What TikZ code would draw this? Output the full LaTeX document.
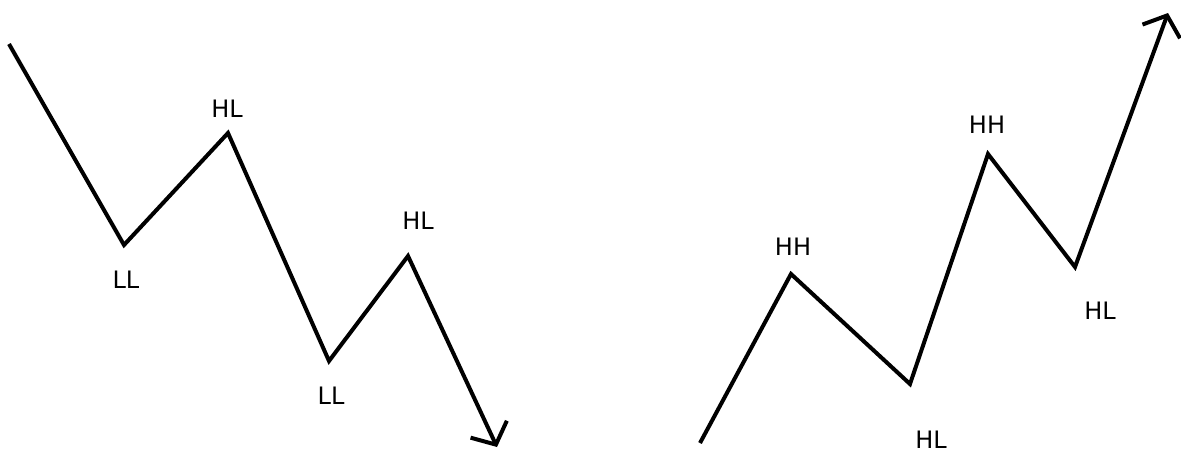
\documentclass[tikz,border=0pt]{standalone}
\usepackage{fontspec}
\setmainfont{DejaVu Sans}
\usetikzlibrary{arrows.meta}
\begin{document}
\begin{tikzpicture}[x=1pt,y=-1pt,
  wave/.style={line width=4pt,line join=miter,line cap=butt},
  tip/.style={-{Straight Barb[length=17pt,width=40pt,line width=4pt]}},
  lbl/.style={font=\fontsize{24}{26}\selectfont,inner sep=0pt}]
\useasboundingbox (0,0) rectangle (1181,453);
% left
\coordinate (a0) at (9,44);
\coordinate (a1) at (124,245);
\coordinate (a2) at (228,133);
\coordinate (a3) at (329,361);
\coordinate (a4) at (408,256);
\coordinate (a5) at (497,447);
\draw[wave,tip] (a0) -- (a1) -- (a2) -- (a3) -- (a4) -- (a5);
\node[lbl] (l1) at (227,109) {HL};
\node[lbl] (l2) at (126,280) {LL};
\node[lbl] (l3) at (331,396) {LL};
\node[lbl] (l4) at (418,221) {HL};
% right
\coordinate (b0) at (700,443);
\coordinate (b1) at (791,274);
\coordinate (b2) at (910,384);
\coordinate (b3) at (988,154);
\coordinate (b4) at (1075,267);
\coordinate (b5) at (1168,13);
\draw[wave,tip] (b0) -- (b1) -- (b2) -- (b3) -- (b4) -- (b5);
\node[lbl] (r1) at (793,247) {HH};
\node[lbl] (r2) at (931,440) {HL};
\node[lbl] (r3) at (987,125) {HH};
\node[lbl] (r4) at (1100,311) {HL};
\end{tikzpicture}
\end{document}
